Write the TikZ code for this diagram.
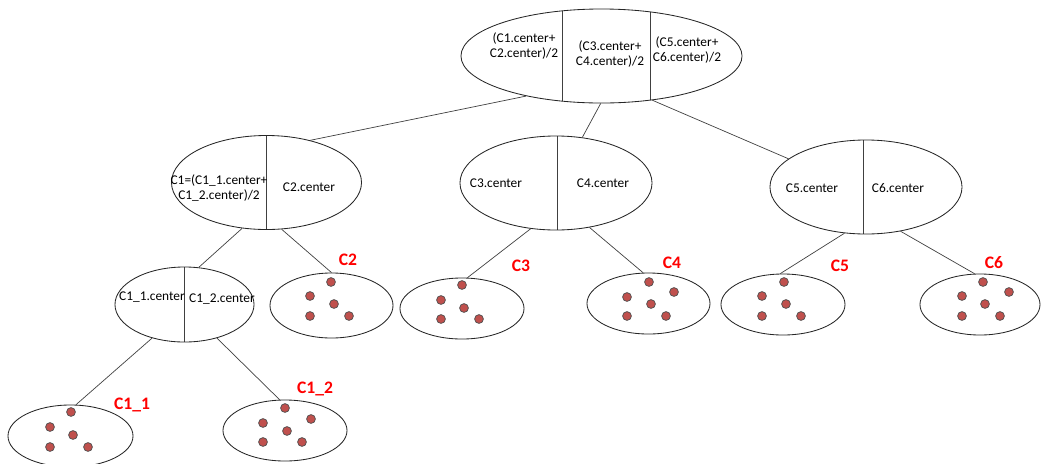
\documentclass[tikz,border=0pt]{standalone}
\usepackage{fontspec}
\setmainfont{Carlito}
\usetikzlibrary{shapes.geometric}
\definecolor{dotred}{HTML}{C0504D}

\begin{document}
\begin{tikzpicture}[x=0.025cm, y=-0.025cm,
    every node/.style={font=\fontsize{9.5}{11}\selectfont, inner sep=0pt},
    edge/.style={draw=black!75, line width=0.5pt},
    oval/.style={ellipse, draw=black!85, line width=0.6pt},
    divider/.style={path picture={\foreach \d in {#1}
        \draw[edge] ([xshift=\d*0.025cm]path picture bounding box.north) -- ([xshift=\d*0.025cm]path picture bounding box.south);}},
    member/.style={circle, fill=dotred, draw=black!70, line width=0.5pt, minimum size=0.22cm},
    tag/.style={text=red, font=\fontsize{12.5}{14}\selectfont\bfseries},
    txt/.style={align=center}]
  \useasboundingbox (0,0) rectangle (1042,463);

  % root
  \node[oval, minimum width=7.025cm, minimum height=2.35cm, divider={-39.5,48.5}] (root) at (601.5,56) {};
  \node[txt] (r1) at (524,46) {(C1.center+\\C2.center)/2};
  \node[txt] (r2) at (610,54) {(C3.center+\\C4.center)/2};
  \node[txt] (r3) at (687,50) {(C5.center+\\C6.center)/2};

  % second level
  \node[oval, minimum width=4.75cm, minimum height=2.35cm, divider={0}] (left) at (266.5,182.5) {};
  \node[txt] (l1) at (219,188) {C1=(C1\_1.center+\\C1\_2.center)/2};
  \node[txt] (l2) at (309,187) {C2.center};
  \node[oval, minimum width=4.8cm, minimum height=2.35cm, divider={1}] (mid) at (556,183) {};
  \node[txt] (m1) at (496,183) {C3.center};
  \node[txt] (m2) at (603,183) {C4.center};
  \node[oval, minimum width=4.8cm, minimum height=2.35cm, divider={-3}] (right) at (866,187) {};
  \node[txt] (g1) at (812,188) {C5.center};
  \node[txt] (g2) at (898,188) {C6.center};

  % third level
  \node[oval, minimum width=3.475cm, minimum height=1.875cm, divider={0}] (sub) at (184.5,304.5) {};
  \node[txt] (s1) at (152,297) {C1\_1.center};
  \node[txt] (s2) at (222,299) {C1\_2.center};
  \node[oval, minimum width=3.075cm, minimum height=1.625cm] (c2) at (331.5,305.5) {};
  \node[oval, minimum width=3.1cm, minimum height=1.525cm] (c3) at (462,308.5) {};
  \node[oval, minimum width=3.075cm, minimum height=1.525cm] (c4) at (648.5,303.5) {};
  \node[oval, minimum width=3.1cm, minimum height=1.525cm] (c5) at (783,304.5) {};
  \node[oval, minimum width=3.0cm, minimum height=1.525cm] (c6) at (980,304.5) {};
  \node[oval, minimum width=3.125cm, minimum height=1.55cm] (c11) at (70.5,436) {};
  \node[oval, minimum width=3.1cm, minimum height=1.525cm] (c12) at (285,430.5) {};

  % points
  \foreach \p [count=\i] in {(331,282),(310,296),(334,304),(310,316),(349,316)}
    \node[member] (p2-\i) at \p {};
  \foreach \p [count=\i] in {(462,285),(441,300),(464,308),(441,319),(479,319)}
    \node[member] (p3-\i) at \p {};
  \foreach \p [count=\i] in {(649,282),(627,297),(674,292),(651,304),(627,316),(666,316)}
    \node[member] (p4-\i) at \p {};
  \foreach \p [count=\i] in {(784,282),(762,296),(786,304),(762,316),(801,316)}
    \node[member] (p5-\i) at \p {};
  \foreach \p [count=\i] in {(983,282),(962,296),(1009,292),(985,304),(962,316),(1000,316)}
    \node[member] (p6-\i) at \p {};
  \foreach \p [count=\i] in {(71,412),(50,427),(73,435),(50,447),(88,447)}
    \node[member] (p11-\i) at \p {};
  \foreach \p [count=\i] in {(285,408),(263,423),(311,419),(287,431),(263,442),(302,442)}
    \node[member] (p12-\i) at \p {};

  % cluster names
  \node[tag] (n2) at (348,260) {C2};
  \node[tag] (n3) at (521,266) {C3};
  \node[tag] (n4) at (672,263) {C4};
  \node[tag] (n5) at (840,266) {C5};
  \node[tag] (n6) at (994,263) {C6};
  \node[tag] (n11) at (132,405) {C1\_1};
  \node[tag] (n12) at (315,389) {C1\_2};

  % links
  \draw[edge] (root.208) -- (left.44);
  \draw[edge] (root.269) -- (mid.60);
  \draw[edge] (root.319) -- (right.160);
  \draw[edge] (left.242) -- (sub.69);
  \draw[edge] (left.288) -- (c2.90);
  \draw[edge] (mid.241) -- (c3.80);
  \draw[edge] (mid.307) -- (c4.100);
  \draw[edge] (right.245) -- (c5.95);
  \draw[edge] (right.308) -- (c6.100);
  \draw[edge] (sub.226) -- (c11.80);
  \draw[edge] (sub.314) -- (c12.100);
\end{tikzpicture}
\end{document}
